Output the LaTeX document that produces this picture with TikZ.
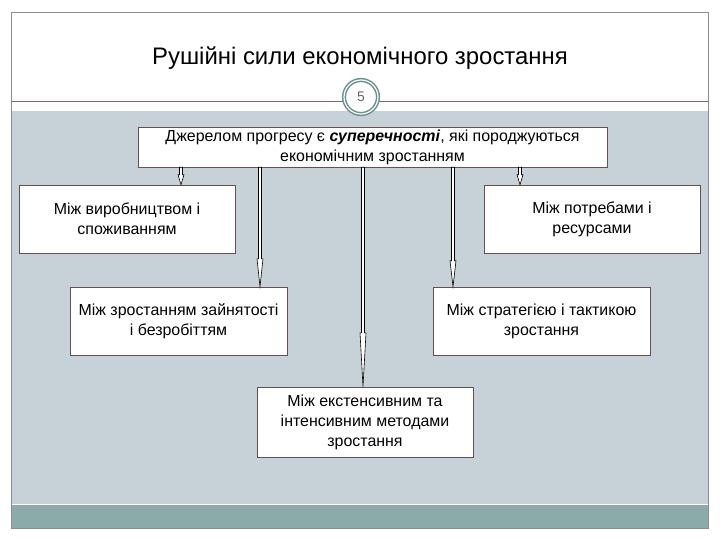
\documentclass[tikz,border=0pt]{standalone}
\usepackage{fontspec}
\setmainfont{Liberation Sans}
\usepackage{xcolor}
\usetikzlibrary{arrows.meta,positioning,calc}

\definecolor{slidegray}{RGB}{199,209,216}
\definecolor{bandteal}{RGB}{138,171,170}
\definecolor{ringteal}{RGB}{104,146,143}
\definecolor{boxline}{RGB}{100,80,80}
\definecolor{framegray}{RGB}{140,140,140}

% hollow slim block arrow: start point, target node anchor, head length
\newcommand\blockarr[3]{%
  \draw[blkarrow] let \p1=#1, \p2=#2 in
    (\x1-1.5,\y1) -- (\x1-1.5,\y2+#3) -- (\x1-3,\y2+#3) -- (\x1,\y2)
    -- (\x1+3,\y2+#3) -- (\x1+1.5,\y2+#3) -- (\x1+1.5,\y1) -- cycle;}

\begin{document}
\begin{tikzpicture}[x=1bp, y=-1bp,
  box/.style={rectangle, draw=boxline, fill=white, line width=0.6pt, minimum width=216bp, minimum height=68bp, font=\fontsize{16}{20}\selectfont, align=center, inner sep=2pt},
  blkarrow/.style={draw=black, fill=white, line width=0.6pt, line join=miter}
]

% slide background
\useasboundingbox[fill=white] (0,0) rectangle (720,540);
\fill[slidegray] (12,111) rectangle (708,504);
\fill[bandteal] (12,505) rectangle (708,528);
\draw[framegray, line width=0.5pt] (11.5,12) rectangle (708,528);
\draw[framegray!80!black, line width=0.6pt] (11.5,101) -- (708,101);

% title and page number
\node[font=\fontsize{24}{28}\selectfont] (title) at (360,58) {Рушійні сили економічного зростання};
\node[circle, fill=white, draw=ringteal, line width=1.5pt, double=white, double distance=1.2pt, minimum size=34bp, inner sep=0pt, text=black!60, font=\fontsize{14}{15}\selectfont] (pagenum) at (361,97) {5};

% source box
\node[box, minimum width=469bp, minimum height=40bp] (src) at (372.5,147) {Джерелом прогресу є \textbf{\textit{суперечності}}, які породжуються\\ економічним зростанням};

% contradiction boxes
\node[box] (prod) at (127,219) {Між виробництвом і\\ споживанням};
\node[box] (need) at (592,219) {Між потребами і\\ ресурсами};
\node[box, minimum width=217bp] (empl) at (178.5,321) {Між зростанням зайнятості\\ і безробіттям};
\node[box, minimum width=217bp] (strat) at (541.5,321) {Між стратегією і тактикою\\ зростання};
\node[box, minimum height=70bp] (meth) at (365,422) {Між екстенсивним та\\ інтенсивним методами\\ зростання};

% arrows from the source box
\blockarr{([xshift=-191.5bp]src.south)}{(prod.north)}{10}
\blockarr{([xshift=-112.5bp]src.south)}{(empl.north)}{28}
\blockarr{([xshift=-9.5bp]src.south)}{(meth.north)}{54}
\blockarr{([xshift=80.5bp]src.south)}{(strat.north)}{26}
\blockarr{([xshift=147.5bp]src.south)}{(need.north)}{10}

\end{tikzpicture}
\end{document}
